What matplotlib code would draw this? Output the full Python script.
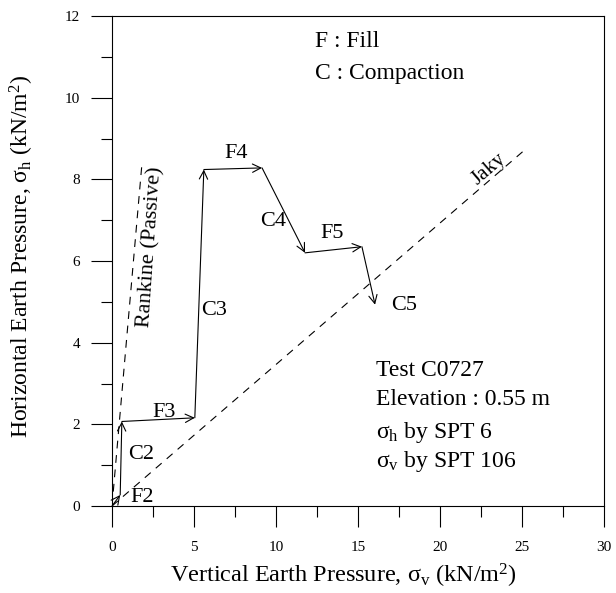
import matplotlib
matplotlib.use("Agg")
import matplotlib.pyplot as plt
from matplotlib.ticker import MultipleLocator

plt.rcParams['font.family'] = ['Liberation Serif', 'DejaVu Serif']
plt.rcParams['mathtext.fontset'] = 'custom'
plt.rcParams['mathtext.rm'] = 'Liberation Serif'
plt.rcParams['mathtext.it'] = 'Liberation Serif:italic'

# stress path (sigma_v, sigma_h) in kN/m2
path_x = [0.0, 0.5, 0.6, 5.05, 5.6, 9.15, 11.77, 15.24, 16.04]
path_y = [0.0, 0.27, 2.07, 2.16, 8.24, 8.28, 6.2, 6.35, 4.93]

# stage labels and where they sit
stage_names = ['F2', 'C2', 'F3', 'C3', 'F4', 'C4', 'F5', 'C5']
stage_x = [1.85, 1.75, 3.15, 6.2, 7.55, 9.8, 13.4, 17.8]
stage_y = [0.2, 1.25, 2.3, 4.78, 8.63, 6.96, 6.67, 4.9]

# reference lines
jaky_x = [0.0, 25.05]
jaky_y = [0.0, 8.68]
rankine_x = [0.0, 1.83]
rankine_y = [0.0, 8.4]

info_lines = ['Test C0727', 'Elevation : 0.55 m',
              'σ$_\\mathrm{h}$ by SPT 6', 'σ$_\\mathrm{v}$ by SPT 106']
info_y = [3.31, 2.6, 1.81, 1.08]

fig = plt.figure(figsize=(6.16, 5.93), dpi=100)
ax = fig.add_axes([112/616, 1-506/593, 492/616, 490/593])

ax.set_xlim(0, 30)
ax.set_ylim(0, 12)

dash = (0, (7, 6))
ax.plot(jaky_x, jaky_y, color='black', lw=0.8, linestyle=dash)
ax.plot(rankine_x, rankine_y, color='black', lw=0.8, linestyle=dash)

# each stage drawn as an arrow
for i in range(len(path_x) - 1):
    ax.annotate('', xy=(path_x[i+1], path_y[i+1]), xytext=(path_x[i], path_y[i]),
                arrowprops=dict(arrowstyle='->', lw=0.8, color='black',
                                shrinkA=0, shrinkB=0, mutation_scale=15))

for name, x, y in zip(stage_names, stage_x, stage_y):
    ax.text(x, y, name, fontsize=16, ha='center', va='center')

ax.text(23.0, 8.25, 'Jaky', fontsize=15, rotation=40.6, ha='center', va='center')
ax.text(2.35, 6.35, 'Rankine (Passive)', fontsize=16, rotation=86,
        ha='center', va='center')

ax.text(12.4, 11.37, 'F : Fill', fontsize=17, ha='left', va='center')
ax.text(12.4, 10.6, 'C : Compaction', fontsize=17, ha='left', va='center')

for t, y in zip(info_lines, info_y):
    ax.text(16.1, y, t, fontsize=17, ha='left', va='center')

ax.xaxis.set_major_locator(MultipleLocator(5))
ax.xaxis.set_minor_locator(MultipleLocator(2.5))
ax.yaxis.set_major_locator(MultipleLocator(2))
ax.yaxis.set_minor_locator(MultipleLocator(1))
ax.tick_params(which='major', direction='out', length=15, width=0.8,
               labelsize=11)
ax.tick_params(which='minor', direction='out', length=8, width=0.8)
ax.tick_params(axis='x', which='major', pad=10)
ax.tick_params(axis='y', which='major', pad=8)
for s in ax.spines.values():
    s.set_linewidth(0.8)

ax.set_xlabel('Vertical Earth Pressure, σ$_\\mathrm{v}$ (kN/m$^2$)', fontsize=17.5)
ax.set_ylabel('Horizontal Earth Pressure, σ$_\\mathrm{h}$ (kN/m$^2$)', fontsize=17)
ax.xaxis.set_label_coords(0.47, -0.115)
ax.yaxis.set_label_coords(-0.155, 0.51)

fig.savefig('out.png', dpi=100)
